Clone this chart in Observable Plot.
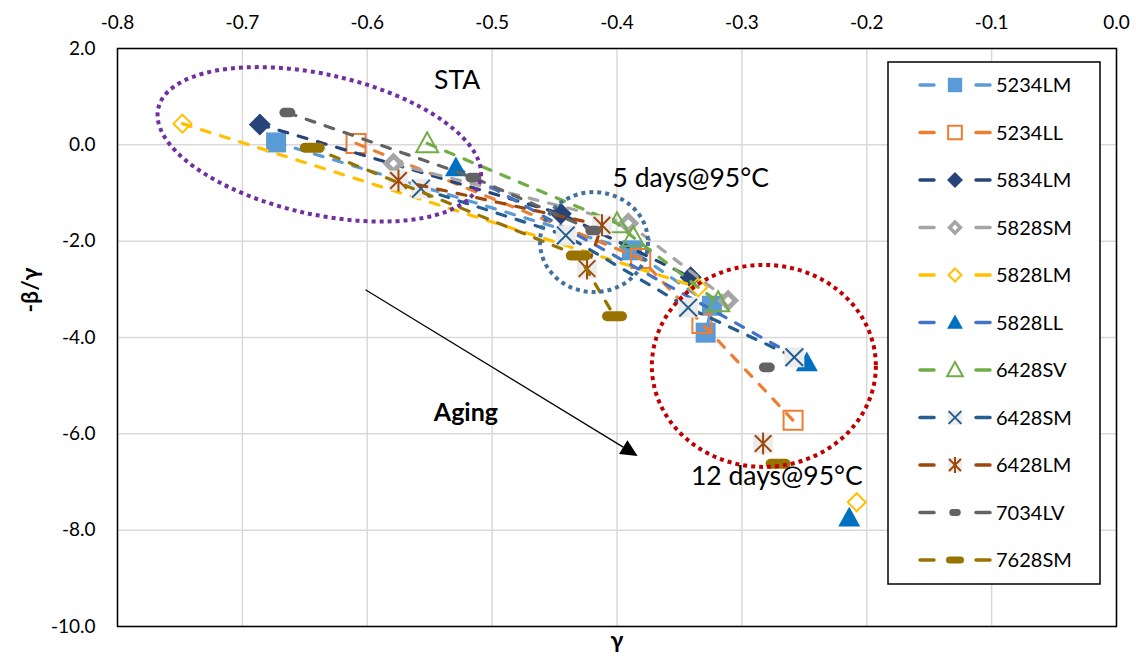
<!DOCTYPE html>
<html><head><meta charset="utf-8">
<script src="https://cdn.jsdelivr.net/npm/d3@7"></script>
<script src="https://cdn.jsdelivr.net/npm/@observablehq/plot@0.6"></script>
<style>body{margin:0;background:#fff;} svg{display:block}</style>
</head><body><div id="chart"></div>
<script>
// ---------- data ----------
const seriesNames = ["5234LM","5234LL","5834LM","5828SM","5828LM","5828LL","6428SV","6428SM","6428LM","7034LV","7628SM"];
const xTicks = [-0.8,-0.7,-0.6,-0.5,-0.4,-0.3,-0.2,-0.1,0.0];
const yTicks = [2,0,-2,-4,-6,-8,-10];

// gamma (x), -beta/gamma (y); seg: points sharing an id are joined by the dashed line
const gamma_5234LM = [-0.673, -0.388, -0.324, -0.329];
const nbg_5234LM   = [0.05, -2.19, -3.34, -3.90];
const seg_5234LM   = [1, 1, 1, 1];

const gamma_5234LL = [-0.609, -0.381, -0.332, -0.259];
const nbg_5234LL   = [0.03, -2.36, -3.71, -5.72];
const seg_5234LL   = [1, 1, 1, 1];

const gamma_5834LM = [-0.686, -0.445, -0.341];
const nbg_5834LM   = [0.42, -1.43, -2.75];
const seg_5834LM   = [1, 1, 1];

const gamma_5828SM = [-0.579, -0.391, -0.311];
const nbg_5828SM   = [-0.39, -1.63, -3.23];
const seg_5828SM   = [1, 1, 1];

const gamma_5828LM = [-0.748, -0.335, -0.208];
const nbg_5828LM   = [0.44, -2.96, -7.42];
const seg_5828LM   = [1, 1, 2];

const gamma_5828LL = [-0.529, -0.248, -0.214];
const nbg_5828LL   = [-0.47, -4.52, -7.74];
const seg_5828LL   = [1, 1, 2];

const gamma_6428SV = [-0.552, -0.400, -0.387, -0.319];
const nbg_6428SV   = [0.03, -1.63, -1.92, -3.27];
const seg_6428SV   = [1, 1, 1, 1];

const gamma_6428SM = [-0.557, -0.441, -0.343, -0.258];
const nbg_6428SM   = [-0.91, -1.88, -3.38, -4.41];
const seg_6428SM   = [1, 1, 1, 1];

const gamma_6428LM = [-0.575, -0.412, -0.424, -0.283];
const nbg_6428LM   = [-0.74, -1.67, -2.57, -6.20];
const seg_6428LM   = [1, 1, 1, 2];

const gamma_7034LV = [-0.664, -0.515, -0.419, -0.280];
const nbg_7034LV   = [0.67, -0.68, -1.78, -4.62];
const seg_7034LV   = [1, 1, 1, 2];

const gamma_7628SM = [-0.644, -0.431, -0.402, -0.271];
const nbg_7628SM   = [-0.06, -2.30, -3.56, -6.62];
const seg_7628SM   = [1, 1, 1, 2];

const gammaBySeries = [gamma_5234LM, gamma_5234LL, gamma_5834LM, gamma_5828SM, gamma_5828LM, gamma_5828LL, gamma_6428SV, gamma_6428SM, gamma_6428LM, gamma_7034LV, gamma_7628SM];
const nbgBySeries   = [nbg_5234LM, nbg_5234LL, nbg_5834LM, nbg_5828SM, nbg_5828LM, nbg_5828LL, nbg_6428SV, nbg_6428SM, nbg_6428LM, nbg_7034LV, nbg_7628SM];
const segBySeries   = [seg_5234LM, seg_5234LL, seg_5834LM, seg_5828SM, seg_5828LM, seg_5828LL, seg_6428SV, seg_6428SM, seg_6428LM, seg_7034LV, seg_7628SM];

// annotations (data space)
const noteTexts = ["STA", "5 days@95°C", "Aging", "12 days@95°C"];
const noteX     = [-0.528, -0.341, -0.521, -0.272];
const noteY     = [1.34, -0.70, -5.56, -6.89];
const noteBold  = [false, false, true, false];
const ellipseCX = [-0.638, -0.418, -0.282];
const ellipseCY = [0.0, -2.03, -4.60];
const arrowFrom = [-0.601, -3.02];
const arrowTo   = [-0.383, -6.47];

// ---------- styles ----------
const sym = (f) => ({draw(c, size){ const r = Math.sqrt(size/Math.PI); f(c, r); }});
const SQ  = sym((c,r)=>{c.moveTo(-r,-r);c.lineTo(r,-r);c.lineTo(r,r);c.lineTo(-r,r);c.closePath();});
const DIA = sym((c,r)=>{c.moveTo(0,-r);c.lineTo(r,0);c.lineTo(0,r);c.lineTo(-r,0);c.closePath();});
const TRI = sym((c,r)=>{c.moveTo(0,-r);c.lineTo(r,r*0.8);c.lineTo(-r,r*0.8);c.closePath();});
const XS  = sym((c,r)=>{c.moveTo(-r*0.8,-r*0.8);c.lineTo(r*0.8,r*0.8);c.moveTo(r*0.8,-r*0.8);c.lineTo(-r*0.8,r*0.8);});
const AST = sym((c,r)=>{c.moveTo(-r*0.75,-r*0.75);c.lineTo(r*0.75,r*0.75);c.moveTo(r*0.75,-r*0.75);c.lineTo(-r*0.75,r*0.75);c.moveTo(0,-r);c.lineTo(0,r);});
const pill = (h) => sym((c,r)=>{ const w=r, hh=r*h, k=hh; c.moveTo(-w+k,-hh); c.lineTo(w-k,-hh); c.arcTo(w,-hh,w,0,k); c.arcTo(w,hh,w-k,hh,k); c.lineTo(-w+k,hh); c.arcTo(-w,hh,-w,0,k); c.arcTo(-w,-hh,-w+k,-hh,k); c.closePath();});
const PILL_S = pill(0.6), PILL_L = pill(0.4);

const lineColors = ["#5B9BD5","#ED7D31","#264478","#A5A5A5","#FFC000","#4472C4","#70AD47","#255E91","#9E480E","#636363","#997300"];
// marker layers: [symbol, r, fill, stroke, strokeWidth]
const markerStyles = [
  [[SQ,10,"#5B9BD5","none",0]],
  [[SQ,9.5,"none","#ED7D31",2]],
  [[DIA,11,"#264478","none",0]],
  [[DIA,11,"#A5A5A5","none",0],[DIA,4,"#ffffff","none",0]],
  [[DIA,9,"none","#FFC000",2]],
  [[TRI,11,"#0070C0","none",0]],
  [[TRI,11,"none","#70AD47",2]],
  [[SQ,10,"#ececec","none",0],[XS,11,"none","#255E91",2]],
  [[SQ,10,"#ececec","none",0],[AST,11,"none","#9E480E",2]],
  [[PILL_S,8,"#636363","none",0]],
  [[PILL_L,12.5,"#997300","none",0]]
];
const legendMarkerScale = 0.72;

const W = 1136, H = 662;
const marks = [
  Plot.gridX(xTicks, {stroke:"#d9d9d9", strokeOpacity:1, strokeWidth:1.5}),
  Plot.gridY(yTicks, {stroke:"#d9d9d9", strokeOpacity:1, strokeWidth:1.5}),
  Plot.axisX(xTicks, {anchor:"top", tickSize:0, tickPadding:20, tickFormat:d=>d.toFixed(1), label:null, fontSize:19}),
  Plot.axisY(yTicks, {anchor:"left", tickSize:0, tickPadding:22, tickFormat:d=>d.toFixed(1), label:null, fontSize:19}),
  Plot.frame({stroke:"#000", strokeWidth:1.5}),
  Plot.text(["γ"], {frameAnchor:"bottom", dy:21, fontWeight:"bold", fontSize:23}),
  Plot.text(["-β/γ"], {frameAnchor:"left", dx:-87, dy:-25, rotate:-90, fontWeight:"bold", fontSize:23})
];
seriesNames.forEach((name, i) => {
  const rows = gammaBySeries[i].map((g, j) => ({x:g, y:nbgBySeries[i][j], seg:segBySeries[i][j]}));
  marks.push(Plot.line(rows, {x:"x", y:"y", z:"seg", stroke:lineColors[i], strokeWidth:3.2, strokeDasharray:"9,11", strokeLinecap:"round"}));
  markerStyles[i].forEach(([s, r, fill, stroke, sw]) => {
    marks.push(Plot.dot(rows, {x:"x", y:"y", symbol:s, r, fill, stroke, strokeWidth:sw}));
  });
});
const notes = noteTexts.map((t,i)=>({t, x:noteX[i], y:noteY[i], b:noteBold[i]}));
marks.push(Plot.text(notes.filter(d=>!d.b), {x:"x", y:"y", text:"t", fontSize:26.5}));
marks.push(Plot.text(notes.filter(d=>d.b), {x:"x", y:"y", text:"t", fontSize:25, fontWeight:"bold"}));

const plot = Plot.plot({
  width: W, height: H,
  marginLeft: 117, marginRight: 20, marginTop: 48, marginBottom: 36,
  x: {domain: [-0.8, 0]},
  y: {domain: [-10, 2]},
  style: {fontFamily: "Lato, 'Open Sans', sans-serif", fontSize: "19px", background: "#fff", color:"#000"},
  marks
});
document.getElementById("chart").appendChild(plot);

// ---------- overlays: ellipses, arrow, legend ----------
const sx = plot.scale("x"), sy = plot.scale("y");
const svg = d3.select(plot);
const ellipseStyle = [ // rx, ry (px), rotation (deg), colour
  [165, 70, 12.6, "#7030A0"],
  [54, 50, 0, "#41719C"],
  [112, 101, 0, "#C00000"]
];
const ov = svg.append("g");
ellipseCX.forEach((cx, i) => {
  const [rx, ry, rot, col] = ellipseStyle[i];
  const px = sx.apply(cx), py = sy.apply(ellipseCY[i]);
  ov.append("ellipse").attr("cx", 0).attr("cy", 0).attr("rx", rx).attr("ry", ry)
    .attr("transform", `translate(${px},${py}) rotate(${rot})`)
    .attr("fill", "none").attr("stroke", col).attr("stroke-width", 4).attr("stroke-dasharray", "4,4");
});
{
  const x1 = sx.apply(arrowFrom[0]), y1 = sy.apply(arrowFrom[1]);
  const x2 = sx.apply(arrowTo[0]), y2 = sy.apply(arrowTo[1]);
  const ang = Math.atan2(y2-y1, x2-x1), L = 17, Wd = 8;
  const bx = x2 - L*Math.cos(ang), by = y2 - L*Math.sin(ang);
  ov.append("line").attr("x1", x1).attr("y1", y1).attr("x2", bx).attr("y2", by).attr("stroke", "#000").attr("stroke-width", 1.2);
  ov.append("path").attr("d", `M${x2},${y2}L${bx - Wd*Math.sin(ang)},${by + Wd*Math.cos(ang)}L${bx + Wd*Math.sin(ang)},${by - Wd*Math.cos(ang)}Z`).attr("fill", "#000");
}
// legend
const lg = svg.append("g").attr("font-family", "Lato, 'Open Sans', sans-serif").attr("font-size", 20).attr("text-anchor", "start");
lg.append("rect").attr("x", 888).attr("y", 62).attr("width", 212).attr("height", 522).attr("fill", "#fff").attr("stroke", "#000").attr("stroke-width", 1.5);
seriesNames.forEach((name, i) => {
  const y = 85 + i*47.5;
  const g = lg.append("g").attr("transform", `translate(0,${y})`);
  [[920,934],[976,990]].forEach(([a,b]) => g.append("line").attr("x1", a).attr("x2", b).attr("y1", 0).attr("y2", 0).attr("stroke", lineColors[i]).attr("stroke-width", 3.5).attr("stroke-linecap", "round"));
  markerStyles[i].forEach(([s, r, fill, stroke, sw]) => {
    const rr = r*legendMarkerScale;
    g.append("path").attr("transform", "translate(955,0)").attr("d", d3.symbol(s, rr*rr*Math.PI)())
      .attr("fill", fill).attr("stroke", stroke).attr("stroke-width", sw);
  });
  g.append("text").attr("x", 996).attr("y", 0).attr("dy", "0.35em").attr("text-anchor", "start").text(name);
});
</script>
</body></html>
